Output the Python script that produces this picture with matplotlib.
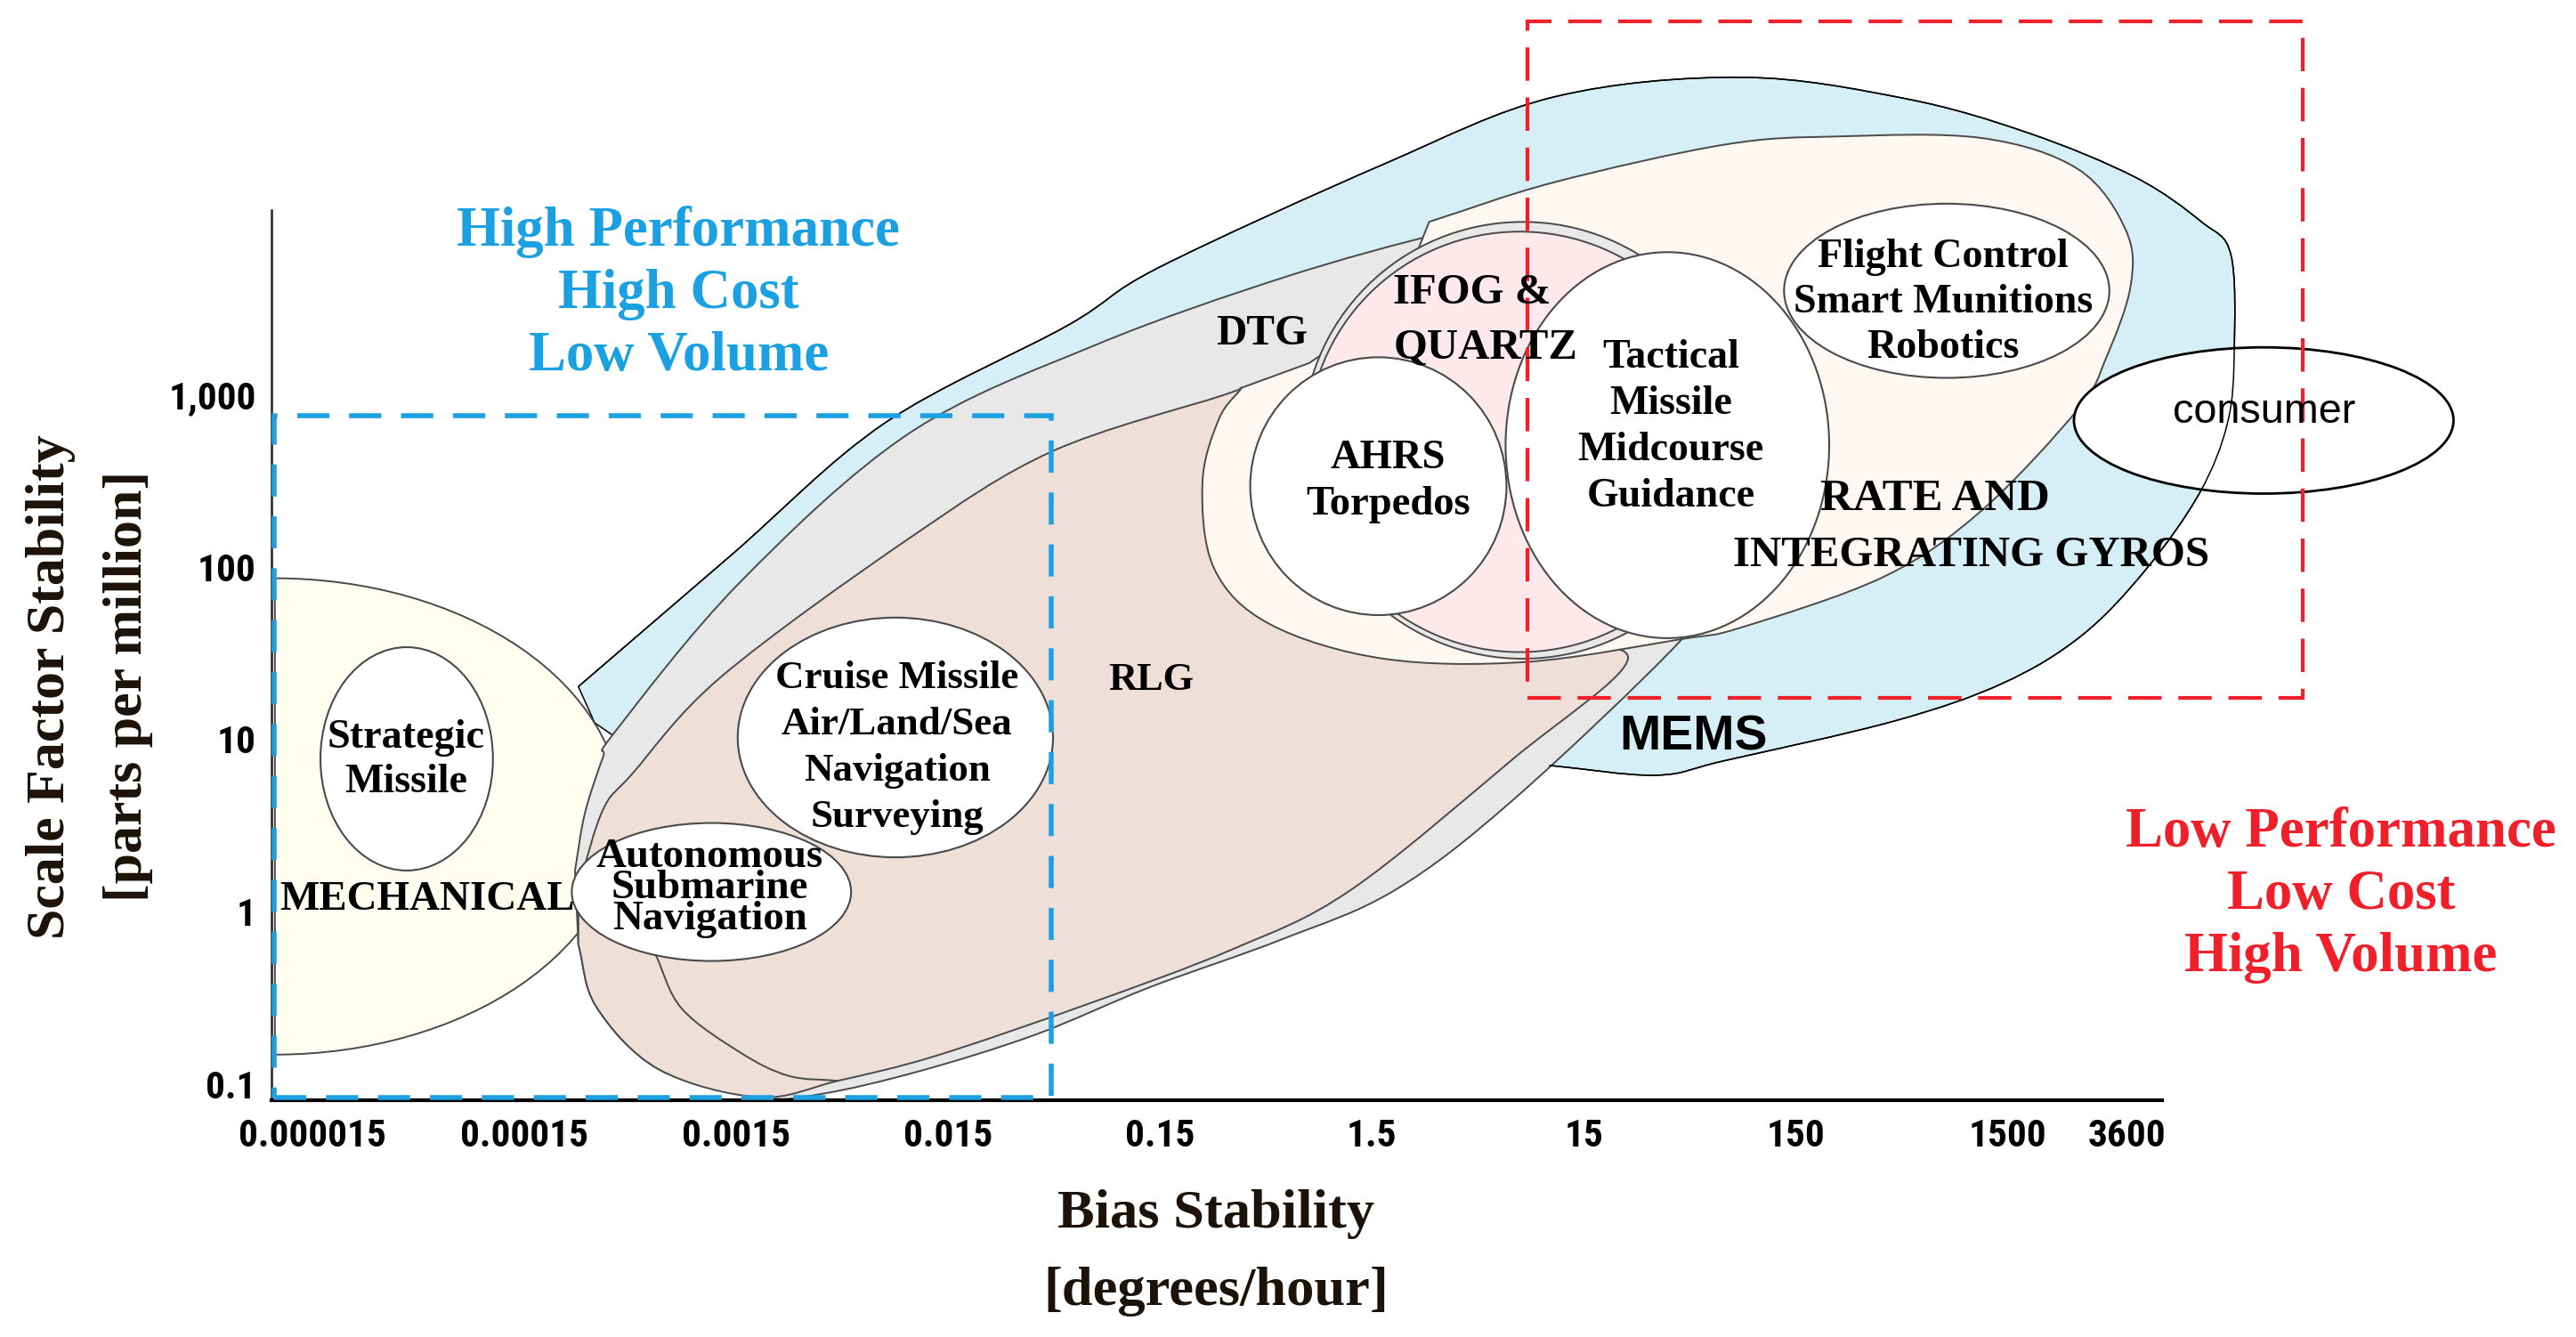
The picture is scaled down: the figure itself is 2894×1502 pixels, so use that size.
import numpy as np
import matplotlib
matplotlib.use("Agg")
import matplotlib.pyplot as plt
from matplotlib.path import Path
from matplotlib.patches import PathPatch, Ellipse, Rectangle
from matplotlib.font_manager import FontProperties, fontManager

# ---------------- axis data (log10 units on both axes) ----------------
bias_ticks = [0.000015, 0.00015, 0.0015, 0.015, 0.15, 1.5, 15, 150, 1500, 3600]
bias_tick_labels = ["0.000015", "0.00015", "0.0015", "0.015", "0.15", "1.5",
                    "15", "150", "1500", "3600"]
scale_ticks = [0.1, 1, 10, 100, 1000]
scale_tick_labels = ["0.1", "1", "10", "100", "1,000"]
bias_range_log = [-5.018, 3.905]
scale_range_log = [-1.095, 4.067]

# ---------------- technology regions: (log10 bias, log10 scale factor) ----------------
mems_outline = [(-3.568, 1.305), (-2.847, 2.067), (-2.127, 2.829), (-1.258, 3.400),
                (-0.832, 3.733), (0.230, 4.333), (1.036, 4.724), (1.920, 4.838),
                (2.695, 4.714), (3.277, 4.514), (3.781, 4.257), (4.091, 4.000),
                (4.230, 3.810), (4.246, 3.257), (4.215, 2.838), (4.083, 2.429),
                (3.827, 1.981), (3.525, 1.600), (3.153, 1.324), (2.641, 1.105),
                (1.843, 0.876), (1.517, 0.791), (1.013, 0.848)]
mems_hidden = [(0.874, 0.733), (-0.871, -0.048), (-3.041, 0.714), (-3.491, 1.095)]

dtg_upper = [(-3.584, 0.238), (-3.537, 0.571), (-3.452, 0.895), (-3.398, 1.038),
             (-2.809, 1.905), (-2.010, 2.771), (-1.127, 3.286), (-0.243, 3.676),
             (0.501, 3.933), (0.905, 4.019), (1.339, 3.952), (1.610, 3.762)]
dtg_hidden = [(1.998, 2.905), (1.843, 1.952)]
dtg_lower = [(1.626, 1.562), (0.843, 0.648), (0.284, 0.124), (-0.251, -0.162),
             (-0.871, -0.438), (-1.413, -0.714), (-1.956, -0.924), (-2.421, -1.057),
             (-2.716, -1.076), (-3.189, -0.914), (-3.483, -0.552), (-3.568, -0.190)]

rlg_upper = [(-3.568, 0.143), (-3.452, 0.590), (-3.313, 0.800), (-2.894, 1.362),
             (-2.010, 2.162), (-1.336, 2.667), (-0.537, 2.990), (-0.437, 3.038)]
rlg_hidden = [(-0.173, 2.429), (0.912, 1.552)]
rlg_lower = [(1.385, 1.467), (0.843, 0.886), (0.075, 0.124), (-0.483, -0.219),
             (-1.181, -0.543), (-1.886, -0.838), (-2.343, -0.981), (-2.716, -1.076),
             (-3.189, -0.914), (-3.483, -0.552), (-3.568, -0.190)]
rlg_inner_curve = [(-3.204, -0.248), (-3.080, -0.562), (-2.801, -0.819),
                   (-2.576, -0.952), (-2.343, -0.981)]

rate_outline = [(0.447, 4.000), (1.036, 4.229), (1.843, 4.448), (2.377, 4.495),
                (3.052, 4.486), (3.509, 4.305), (3.734, 3.952), (3.757, 3.629),
                (3.641, 3.210), (3.509, 2.914), (3.052, 2.324), (2.594, 1.943),
                (1.920, 1.648), (1.641, 1.581), (0.905, 1.448), (0.230, 1.467),
                (-0.305, 1.667), (-0.568, 1.990), (-0.623, 2.486), (-0.545, 2.857),
                (-0.437, 3.038)]
rate_hidden = [(-0.119, 3.181), (0.292, 3.524)]

mech_center = (-5.0, 0.552)
mech_half_axes = (1.64, 1.381)

ifog_cap_ellipse = (0.889, 2.733, 2.078, 2.533)
ifog_ellipse = (0.874, 2.724, 2.000, 2.438)

# application ellipses: centre (log bias, log sf), width/height in decades
app_names = ["strategic", "cruise", "autonomous", "ahrs", "tactical", "flight"]
app_center_bias = [-4.378, -2.072, -2.940, 0.207, 1.571, 2.889]
app_center_scale = [0.886, 1.010, 0.114, 2.467, 2.705, 3.600]
app_width = [0.814, 1.488, 1.318, 1.209, 1.527, 1.535]
app_height = [1.295, 1.390, 0.800, 1.495, 2.238, 1.010]
consumer_ellipse = (4.385, 2.848, 1.791, 0.848)

high_perf_box = [(-5.002, -1.336), (-1.076, 2.876)]   # (bias range), (scale range)
low_perf_box = [(0.912, 4.571), (1.238, 5.162)]

# ---------------- colours ----------------
C_MEMS = "#D6EEF6"
C_DTG = "#E8E8E8"
C_RLG = "#EEE0D9"
C_RATE = "#FEF7F2"
C_IFOG = "#FDE8EC"
C_MECH = "#FFFDF0"
C_EDGE = "#4a4a4a"
C_BLUE = "#1BA1E2"
C_RED = "#F0202A"
C_LABEL = "#1c1208"

# ---------------- fonts ----------------
names = {f.name for f in fontManager.ttflist}
def pick(*cands, default="DejaVu Sans"):
    for c in cands:
        if c in names:
            return c
    return default
SERIF = pick("Liberation Serif", "DejaVu Serif")
SANS = pick("Liberation Sans", "DejaVu Sans")
NARROW = pick("Liberation Sans Narrow", "Roboto Condensed", "Roboto", "DejaVu Sans")

# ---------------- figure ----------------
fig = plt.figure(figsize=(28.94, 15.02), dpi=100)
ax = fig.add_axes([0.10523, 0.17690, 0.73406, 0.66585])
ax.set_xlim(*bias_range_log)
ax.set_ylim(*scale_range_log)
renderer = fig.canvas.get_renderer()


def fitted_size(s, target_px, **fp_kw):
    fp = FontProperties(size=100, **fp_kw)
    w, h, d = renderer.get_text_width_height_descent(s, fp, ismath=False)
    return 100.0 * target_px / w


def line_spacing(step_px, size, **fp_kw):
    # baseline-to-baseline distance = descent + (height - descent) * linespacing
    fp = FontProperties(size=size, **fp_kw)
    w, h, d = renderer.get_text_width_height_descent("lp", fp, ismath=False)
    return max(step_px - d, 1.0) / (h - d)


def catmull(points):
    P = np.asarray(points, float)
    T = np.zeros_like(P)
    if len(P) > 2:
        T[1:-1] = (P[2:] - P[:-2]) / 2.0
    T[0] = P[1] - P[0]
    T[-1] = P[-1] - P[-2]
    verts, codes = [], []
    for i in range(len(P) - 1):
        verts += [P[i] + T[i] / 3.0, P[i + 1] - T[i + 1] / 3.0, P[i + 1]]
        codes += [Path.CURVE4] * 3
    return verts, codes


def build_path(segments, closed=True):
    verts, codes = [], []
    for kind, pts in segments:
        pts = [np.asarray(p, float) for p in pts]
        if not verts:
            verts.append(pts[0])
            codes.append(Path.MOVETO)
            chain = pts
        else:
            chain = [verts[-1]] + pts
        if kind == "smooth":
            v, c = catmull(chain)
            verts += v
            codes += c
        else:
            for p in chain[1:]:
                verts.append(p)
                codes.append(Path.LINETO)
    if closed:
        verts.append(verts[0])
        codes.append(Path.CLOSEPOLY)
    return Path(np.array(verts), codes)


def add_shape(path, face, edge, lw, z, fill=True):
    patch = PathPatch(path, facecolor=face if fill else "none", edgecolor=edge,
                      lw=lw, zorder=z, clip_on=False, fill=fill)
    ax.add_patch(patch)
    return patch


# MEMS region
mems_path = build_path([("smooth", mems_outline), ("line", mems_hidden)])
add_shape(mems_path, C_MEMS, "black", 1.1, 1.0)

# Mechanical half ellipse
arc = Path.arc(-90, 90)
mv = arc.vertices * np.array(mech_half_axes) + np.array(mech_center)
mech_path = Path(np.vstack([mv, mv[:1]]), list(arc.codes) + [Path.CLOSEPOLY])
add_shape(mech_path, C_MECH, C_EDGE, 1.4, 1.1)

# DTG band
dtg_path = build_path([("smooth", dtg_upper), ("line", dtg_hidden), ("smooth", dtg_lower)])
add_shape(dtg_path, C_DTG, C_EDGE, 1.4, 1.2)

# RLG
rlg_path = build_path([("smooth", rlg_upper), ("line", rlg_hidden), ("smooth", rlg_lower)])
add_shape(rlg_path, C_RLG, C_EDGE, 1.4, 1.3)
add_shape(build_path([("smooth", rlg_inner_curve)], closed=False), "none", C_EDGE, 1.4,
          1.35, fill=False)

# Rate and integrating gyros
rate_path = build_path([("smooth", rate_outline), ("line", rate_hidden)])
add_shape(rate_path, C_RATE, C_EDGE, 1.4, 1.4)

# IFOG & quartz
cx, cy, w, h = ifog_cap_ellipse
ax.add_patch(Ellipse((cx, cy), w, h, facecolor=C_DTG, edgecolor=C_EDGE, lw=1.4,
                     zorder=1.5, clip_on=False))
cx, cy, w, h = ifog_ellipse
ax.add_patch(Ellipse((cx, cy), w, h, facecolor=C_IFOG, edgecolor=C_EDGE, lw=1.4,
                     zorder=1.6, clip_on=False))

# application ellipses
for bx, sy, w, h in zip(app_center_bias, app_center_scale, app_width, app_height):
    ax.add_patch(Ellipse((bx, sy), w, h, facecolor="white", edgecolor=C_EDGE, lw=1.5,
                         zorder=1.7, clip_on=False))

# consumer ellipse + MEMS outline seen through it
cx, cy, w, h = consumer_ellipse
cons = Ellipse((cx, cy), w, h, facecolor="white", edgecolor="black", lw=2.0,
               zorder=1.8, clip_on=False)
ax.add_patch(cons)
mems_line = add_shape(build_path([("smooth", mems_outline)], closed=False), "none",
                      "black", 1.1, 1.9, fill=False)
mems_line.set_clip_path(cons)

# region boxes
(bx0, bx1), (sy0, sy1) = high_perf_box
ax.add_patch(Rectangle((bx0, sy0), bx1 - bx0, sy1 - sy0, fill=False, edgecolor=C_BLUE,
                       lw=4.0, linestyle=(0, (6.5, 4)), zorder=2.6, clip_on=False))
(bx0, bx1), (sy0, sy1) = low_perf_box
ax.add_patch(Rectangle((bx0, sy0), bx1 - bx0, sy1 - sy0, fill=False, edgecolor=C_RED,
                       lw=3.0, linestyle=(0, (9, 4.5)), zorder=2.7, clip_on=False))

# ---------------- texts ----------------
def put(x, y, s, ref_line, width_px, step_px=None, ha="center", color="black",
        family=SERIF, weight="bold"):
    size = fitted_size(ref_line, width_px, family=family, weight=weight)
    kw = dict(fontsize=size, ha=ha, va="center", color=color, zorder=3,
              clip_on=False, family=family, weight=weight)
    if step_px:
        kw["linespacing"] = line_spacing(step_px, size, family=family, weight=weight)
    return ax.text(x, y, s, **kw)


put(-3.095, 3.581, "High Performance\nHigh Cost\nLow Volume", "High Performance", 498,
    70, color=C_BLUE)
put(4.750, 0.095, "Low Performance\nLow Cost\nHigh Volume", "Low Performance", 484,
    70, color=C_RED)
put(-4.282, 0.067, "MECHANICAL", "MECHANICAL", 332)
put(-4.382, 0.876, "Strategic\nMissile", "Strategic", 177, 50)
put(-2.064, 0.952, "Cruise Missile\nAir/Land/Sea\nNavigation\nSurveying",
    "Cruise Missile", 273, 52)
put(-2.948, 0.133, "Autonomous\nSubmarine\nNavigation", "Autonomous", 255, 35)
put(-0.863, 1.343, "RLG", "RLG", 96)
put(-0.344, 3.352, "DTG", "DTG", 103)
put(0.277, 3.429, "IFOG &\nQUARTZ", "QUARTZ", 207, 61, ha="left")
put(0.253, 2.495, "AHRS\nTorpedos", "Torpedos", 185, 52)
put(1.587, 2.810, "Tactical\nMissile\nMidcourse\nGuidance", "Midcourse", 209, 52)
put(2.873, 3.533, "Flight Control\nSmart Munitions\nRobotics", "Smart Munitions", 336, 51)
put(2.835, 2.390, "RATE AND", "RATE AND", 258)
put(3.005, 2.067, "INTEGRATING GYROS", "INTEGRATING GYROS", 535)
put(1.695, 1.010, "MEMS", "MEMS", 166, family=SANS, weight="bold")
put(4.385, 2.895, "consumer", "consumer", 205, family=SANS, weight="normal")

# ---------------- axes styling ----------------
tick_size = fitted_size("0.000015", 166, family=NARROW, weight="bold")
ax.set_xticks(np.log10(bias_ticks), bias_tick_labels, fontsize=tick_size,
              family=NARROW, weight="bold")
ax.set_yticks(np.log10(scale_ticks), scale_tick_labels, fontsize=tick_size,
              family=NARROW, weight="bold")
ax.tick_params(axis="x", length=0, pad=14)
ax.tick_params(axis="y", length=0, pad=12)
ax.get_xticklabels()[-1].set_horizontalalignment("left")

for side in ("top", "right"):
    ax.spines[side].set_visible(False)
ax.spines["bottom"].set_linewidth(3.0)
ax.spines["bottom"].set_color("black")
ax.spines["left"].set_linewidth(1.8)
ax.spines["left"].set_color("#222222")

lab_size = fitted_size("Scale Factor Stability", 567, family=SERIF, weight="bold")
lab_ls = line_spacing(87, lab_size, family=SERIF, weight="bold")
ax.set_ylabel("Scale Factor Stability\n[parts per million]", fontsize=lab_size,
              family=SERIF, weight="bold", color=C_LABEL, linespacing=lab_ls)
ax.yaxis.set_label_coords(-0.0626, 0.4649)
xl_size = fitted_size("Bias Stability", 356, family=SERIF, weight="bold")
xl_ls = line_spacing(87, xl_size, family=SERIF, weight="bold")
ax.set_xlabel("Bias Stability\n[degrees/hour]", fontsize=xl_size, family=SERIF,
              weight="bold", color=C_LABEL, linespacing=xl_ls)
ax.xaxis.set_label_coords(0.4996, -0.1000)

fig.savefig("out.png", dpi=100)
